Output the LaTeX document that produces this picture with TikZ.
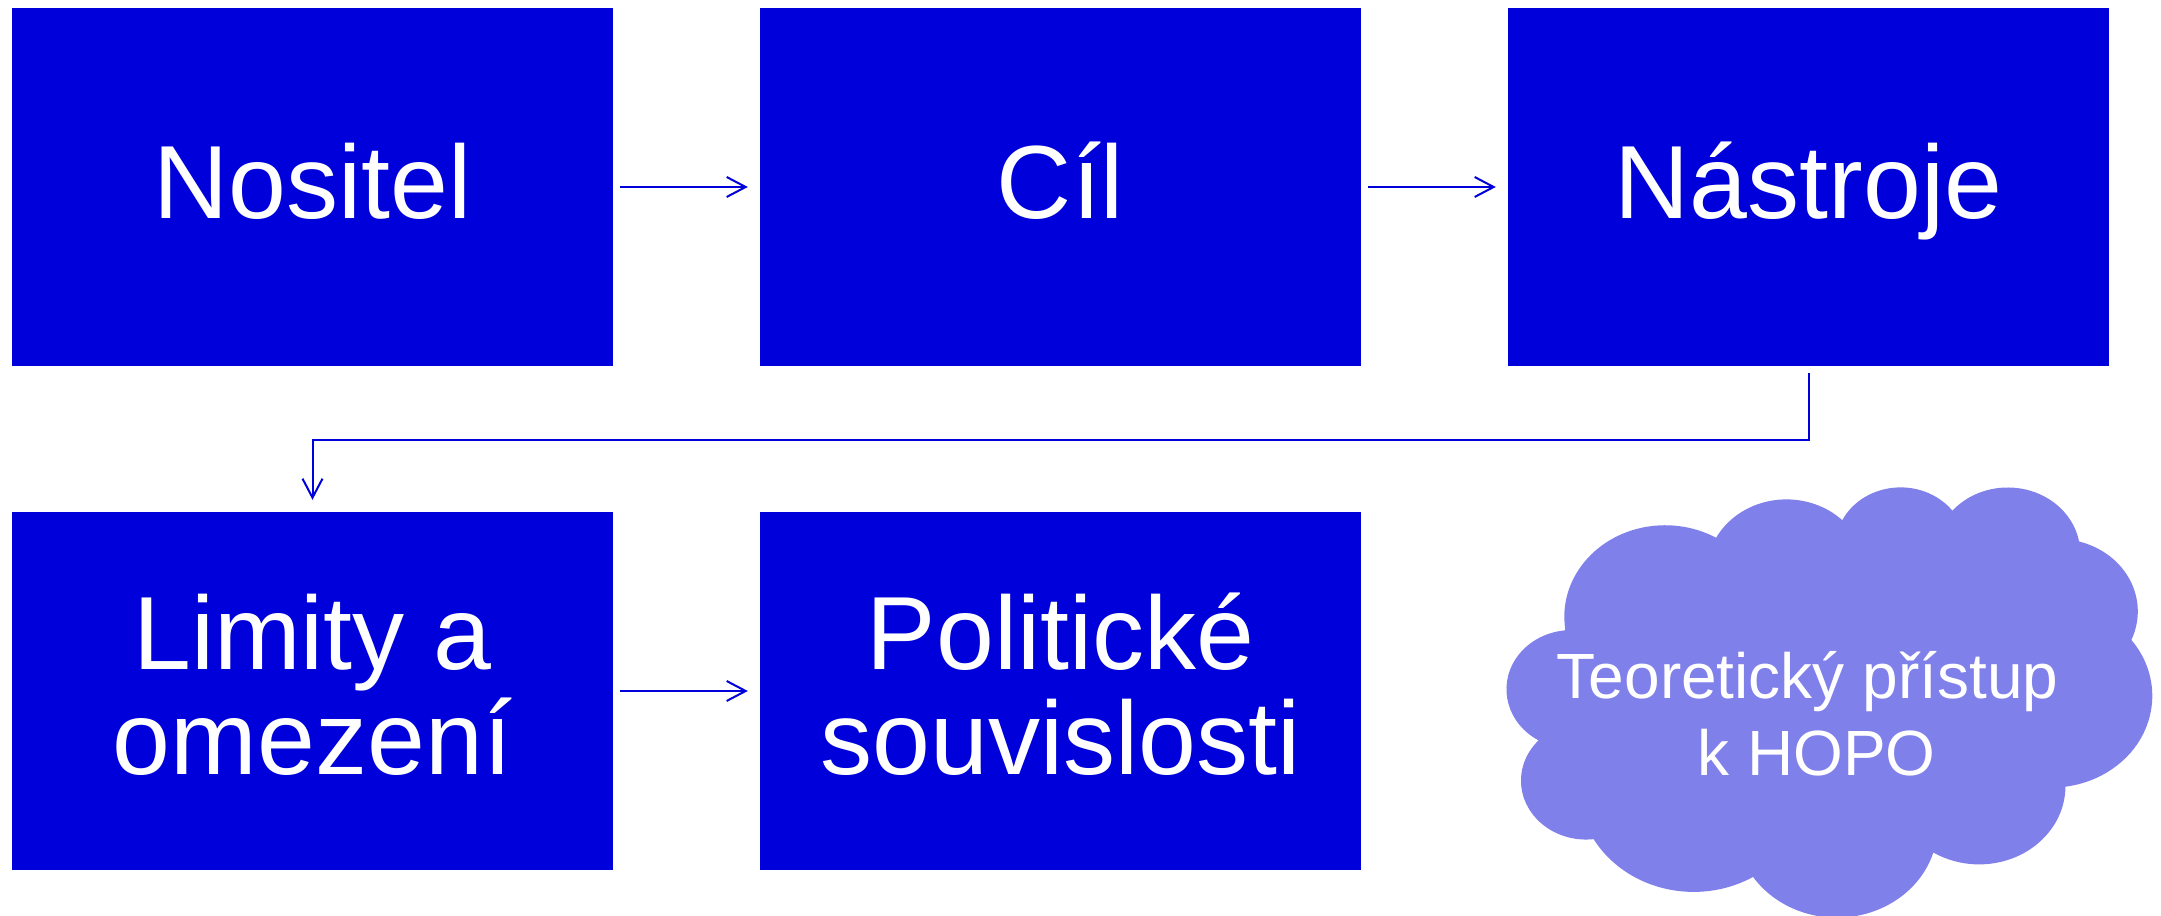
\documentclass[tikz,border=0pt]{standalone}
\usepackage{fontspec}
\setmainfont{Liberation Sans}
\usetikzlibrary{arrows.meta}

\definecolor{boxblue}{RGB}{0,0,218}
\definecolor{cloudblue}{RGB}{128,128,235}

\newcommand\boxfont{\fontsize{29.6pt}{29.9pt}\selectfont\lineskiplimit=-\maxdimen}
\newcommand\cloudfont{\fontsize{18.2pt}{21.9pt}\selectfont\lineskiplimit=-\maxdimen}
\newcommand\lstrut{\rule[-0.3em]{0pt}{1.3em}}

\begin{document}
\begin{tikzpicture}[>={Straight Barb[length=1.9mm,width=2mm]},
    declare function={pa(\a,\p,\q)=atan2(\p*sin(\a),\q*cos(\a));},
    blok/.style={rectangle,
          fill = boxblue,
          inner sep = 0pt,
          minimum width = 6.01cm,
          minimum height = 3.58cm},
    boxtext/.style={text=white, font=\boxfont, align=center, inner sep=0pt},
    cloudtext/.style={text=white, font=\cloudfont, align=center, inner sep=0pt},
    link/.style={->, draw=boxblue, line width=0.2mm,
          shorten <=0.065cm, shorten >=0.115cm}]

    \useasboundingbox (0,0) rectangle (21.61,-9.16);

    % first row
    \node[blok] (nositel) at (3.125,-1.87) {};
    \node[boxtext] (nositel-t) at ([yshift=0.05cm]nositel.center) {\lstrut Nositel};

    \node[blok] (cil) at (10.605,-1.87) {};
    \node[boxtext] (cil-t) at ([yshift=0.05cm]cil.center) {\lstrut Cíl};

    \node[blok] (nastroje) at (18.085,-1.87) {};
    \node[boxtext] (nastroje-t) at ([yshift=0.05cm]nastroje.center) {\lstrut Nástroje};

    % second row
    \node[blok] (limity) at (3.125,-6.91) {};
    \node[boxtext] (limity-t) at ([yshift=0.05cm]limity.center)
        {\lstrut Limity a\\\lstrut omezení};

    \node[blok] (politicke) at (10.605,-6.91) {};
    \node[boxtext] (politicke-t) at ([yshift=0.05cm]politicke.center)
        {\lstrut Politické\\\lstrut souvislosti};

    % cloud
    \begin{scope}[shift={(15.07,-4.86)}, xscale=0.029861, yscale=-0.019907]
    \fill[cloudblue] (19.5,71.85)
      \foreach \rx/\ry/\sa/\da in {33.765/45.95/-190.4875/123.7805,
          26.665/36.335/-144.1024/89.9452,
          21.825/29.725/-145.8079/99.7230,
          24.285/32.975/-130.9861/117.2417,
          26.665/36.365/-78.7089/109.0269,
          33.875/46.1/-46.2673/130.2690,
          28.925/39.335/0.6250/114.0333,
          33.76/46.075/22.4516/115.1726,
          38.6/52.715/66.2426/75.7110,
          21.8/29.59/-274.9421/146.7356,
          21.725/29.725/-246.8285/152.5189}
      { arc[x radius=\rx, y radius=\ry, start angle={pa(\sa,\rx,\ry)},
            delta angle={pa(\sa+\da,\rx,\ry)-pa(\sa,\rx,\ry)+360*round((\da-pa(\sa+\da,\rx,\ry)+pa(\sa,\rx,\ry))/360)}] }
      -- cycle;
    \end{scope}
    \node[cloudtext] (teorie) at (18.165,-7.15)
        {\lstrut Teoretický přístup\kern0.28em\\\lstrut k HOPO};

    % connectors
    \draw[link] (nositel.east) -- (cil.west);
    \draw[link] (cil.east) -- (nastroje.west);
    \draw[link] (nastroje.south) -- ++(0,-0.73) -| (limity.north);
    \draw[link] (limity.east) -- (politicke.west);

\end{tikzpicture}
\end{document}
